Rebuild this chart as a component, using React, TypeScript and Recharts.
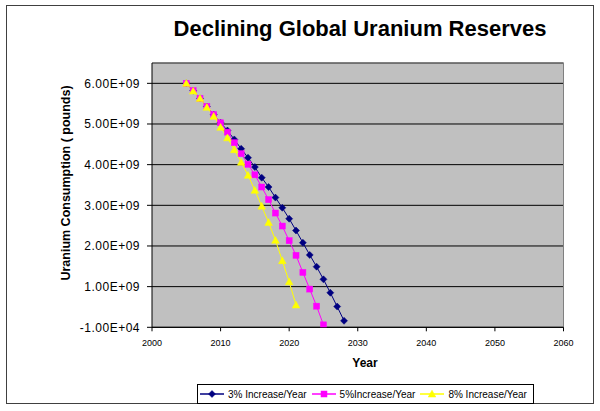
import React from 'react';
import { LineChart, Line, XAxis, YAxis, CartesianGrid, Legend, ReferenceLine } from 'recharts';

const years = [2005, 2006, 2007, 2008, 2009, 2010, 2011, 2012, 2013, 2014, 2015, 2016, 2017, 2018, 2019, 2020, 2021, 2022, 2023, 2024, 2025, 2026, 2027, 2028];
const increase3 = [6.0e9, 5.82e9, 5.63e9, 5.43e9, 5.23e9, 5.03e9, 4.84e9, 4.62e9, 4.39e9, 4.17e9, 3.94e9, 3.68e9, 3.45e9, 3.19e9, 2.94e9, 2.67e9, 2.38e9, 2.08e9, 1.78e9, 1.49e9, 1.18e9, 0.85e9, 0.51e9, 0.16e9];
const increase5 = [6.0e9, 5.82e9, 5.63e9, 5.43e9, 5.23e9, 5.03e9, 4.8e9, 4.54e9, 4.27e9, 4.01e9, 3.75e9, 3.45e9, 3.14e9, 2.81e9, 2.49e9, 2.13e9, 1.77e9, 1.35e9, 0.94e9, 0.52e9, 0.06e9];
const increase8 = [6.0e9, 5.81e9, 5.63e9, 5.41e9, 5.19e9, 4.92e9, 4.66e9, 4.37e9, 4.06e9, 3.74e9, 3.37e9, 2.98e9, 2.58e9, 2.14e9, 1.64e9, 1.12e9, 0.55e9];

const xTicks = [2000, 2010, 2020, 2030, 2040, 2050, 2060];
const yTicks = [-1e4, 1e9, 2e9, 3e9, 4e9, 5e9, 6e9];

const seriesNames = ['3% Increase/Year', '5%Increase/Year', '8% Increase/Year'];

const data = years.map((year, i) => ({
  year,
  s3: increase3[i],
  s5: increase5[i],
  s8: increase8[i],
}));

const FONT = '"Liberation Sans", Arial, sans-serif';

const fmtY = (v: number) => {
  const s = v.toExponential(2);
  const [m, e] = s.split('e');
  const sign = e[0] === '-' ? '-' : '+';
  const digits = e.replace(/^[+-]/, '').padStart(2, '0');
  return `${m}E${sign}${digits}`;
};

type Shape = 'diamond' | 'square' | 'triangle';

const Marker = ({ cx, cy, shape, color }: { cx: number; cy: number; shape: Shape; color: string }) => {
  if (shape === 'diamond') {
    const r = 3.5;
    return <polygon points={`${cx},${cy - r} ${cx + r},${cy} ${cx},${cy + r} ${cx - r},${cy}`} fill={color} stroke={color} strokeWidth={0.5} />;
  }
  if (shape === 'square') {
    const r = 3;
    return <rect x={cx - r} y={cy - r} width={2 * r} height={2 * r} fill={color} stroke={color} strokeWidth={0.5} />;
  }
  const r = 3.8;
  return <polygon points={`${cx},${cy - r} ${cx + r},${cy + r * 0.8} ${cx - r},${cy + r * 0.8}`} fill={color} stroke={color} strokeWidth={0.5} />;
};

const makeDot = (shape: Shape, color: string) => (props: any) => {
  const { cx, cy, index } = props;
  if (cx == null || cy == null || props.value == null) return <g key={`d-${shape}-${index}`} />;
  return (
    <g key={`d-${shape}-${index}`}>
      <Marker cx={cx} cy={cy} shape={shape} color={color} />
    </g>
  );
};

const series = [
  { key: 's3', name: seriesNames[0], color: '#000080', shape: 'diamond' as Shape },
  { key: 's5', name: seriesNames[1], color: '#FF00FF', shape: 'square' as Shape },
  { key: 's8', name: seriesNames[2], color: '#FFFF00', shape: 'triangle' as Shape },
];

const LegendContent = () => (
  <div
    style={{
      border: '1px solid #000',
      background: '#fff',
      height: 20,
      boxSizing: 'border-box',
      display: 'flex',
      alignItems: 'center',
      fontFamily: FONT,
      fontSize: 10,
      paddingLeft: 2,
      whiteSpace: 'nowrap',
    }}
  >
    {series.map((s) => (
      <div key={s.key} style={{ display: 'flex', alignItems: 'center', marginRight: 5 }}>
        <svg width={24} height={10} style={{ marginRight: 4 }}>
          <line x1={0} y1={5} x2={24} y2={5} stroke={s.color} strokeWidth={1.5} />
          <Marker cx={12} cy={5} shape={s.shape} color={s.color} />
        </svg>
        <span>{s.name}</span>
      </div>
    ))}
  </div>
);

export default function App() {
  return (
    <div style={{ position: 'absolute', left: 0, top: 0, width: 600, height: 411, background: '#fff' }}>
      <div
        style={{
          position: 'absolute',
          left: 6,
          top: 5,
          width: 588,
          height: 399,
          border: '1px solid #404040',
          boxSizing: 'border-box',
          background: '#fff',
        }}
      />
      <div
        style={{
          position: 'absolute',
          left: 0,
          width: 600,
          top: 16,
          textAlign: 'center',
          paddingLeft: 120,
          boxSizing: 'border-box',
          fontFamily: FONT,
          fontWeight: 'bold',
          fontSize: 22,
          lineHeight: '26px',
          color: '#000',
        }}
      >
        Declining Global Uranium Reserves
      </div>
      <LineChart width={600} height={411} data={data} margin={{ top: 63, right: 36.5, bottom: 7, left: 0 }}>
        <CartesianGrid vertical={false} stroke="#000" strokeWidth={1} fill="#C0C0C0" fillOpacity={1} />
        <ReferenceLine y={6.5e9} stroke="#808080" strokeWidth={1} ifOverflow="visible" />
        <ReferenceLine x={2060} stroke="#808080" strokeWidth={1} ifOverflow="visible" />
        <XAxis
          dataKey="year"
          type="number"
          domain={[2000, 2060]}
          ticks={xTicks}
          height={56.7}
          axisLine={{ stroke: '#000' }}
          tickLine={{ stroke: '#000' }}
          tickSize={4}
          tickMargin={8}
          tick={{ fill: '#000', fontSize: 9, fontFamily: FONT }}
          label={{
            content: () => (
              <text x={365} y={367} textAnchor="middle" fontFamily={FONT} fontWeight="bold" fontSize={12} fill="#000">
                Year
              </text>
            ),
          }}
        />
        <YAxis
          type="number"
          domain={[-1e4, 6.5e9]}
          ticks={yTicks}
          width={152}
          allowDataOverflow
          tickFormatter={fmtY}
          axisLine={{ stroke: '#000' }}
          tickLine={{ stroke: '#000' }}
          tickSize={5}
          tickMargin={7}
          tick={{ fill: '#000', fontSize: 12, fontFamily: FONT, letterSpacing: 0.5 }}
          label={{
            content: () => (
              <text
                x={70}
                y={183}
                transform="rotate(-90 70 183)"
                textAnchor="middle"
                fontFamily={FONT}
                fontWeight="bold"
                fontSize={12.5}
                fill="#000"
              >
                Uranium Consumption ( pounds)
              </text>
            ),
          }}
        />
        {series.map((s) => (
          <Line
            key={s.key}
            dataKey={s.key}
            name={s.name}
            stroke={s.color}
            strokeWidth={1}
            dot={makeDot(s.shape, s.color)}
            activeDot={false}
            isAnimationActive={false}
            connectNulls={false}
          />
        ))}
        <Legend
          content={<LegendContent />}
          verticalAlign="bottom"
          wrapperStyle={{ left: 197, bottom: 7, width: 337, height: 20 }}
        />
      </LineChart>
    </div>
  );
}
